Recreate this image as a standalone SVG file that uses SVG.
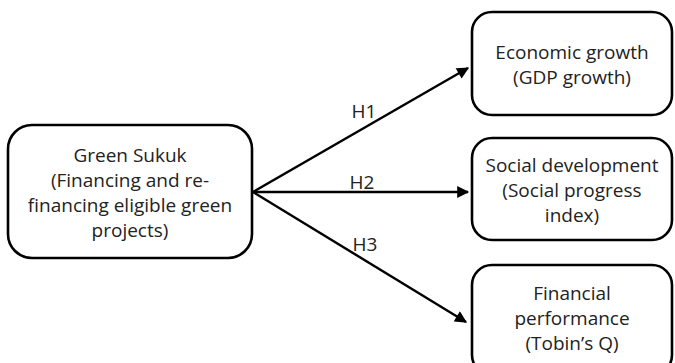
<svg xmlns="http://www.w3.org/2000/svg" width="675" height="363" viewBox="0 0 675 363">
<style>
.box{fill:#fff;stroke:#000;stroke-width:2.6}
.t{font-family:"Open Sans","Liberation Sans",Arial,sans-serif;font-size:19px;fill:#222;text-anchor:middle}
.c{stroke:#000;stroke-width:2.4;fill:none;marker-end:url(#ah)}
</style>
<defs>
<marker id="ah" viewBox="0 0 10 10" refX="9" refY="5" markerWidth="5.5" markerHeight="5" markerUnits="strokeWidth" orient="auto">
<path d="M0,0 L10,5 L0,10 z" fill="#000"/>
</marker>
</defs>
<rect width="675" height="363" fill="#fff"/>
<g id="connectors">
<line class="c" x1="253" y1="192" x2="468" y2="68"/>
<line class="c" x1="253" y1="192" x2="468" y2="192"/>
<line class="c" x1="253" y1="192" x2="466" y2="322"/>
<text class="t" x="364" y="118">H1</text>
<text class="t" x="362" y="189">H2</text>
<text class="t" x="365" y="251">H3</text>
</g>
<g id="green-sukuk">
<rect class="box" x="8" y="125" width="244" height="133" rx="24"/>
<text class="t" x="130" y="162">Green Sukuk</text>
<text class="t" x="130" y="187">(Financing and re-</text>
<text class="t" x="130" y="212">financing eligible green</text>
<text class="t" x="130" y="237">projects)</text>
</g>
<g id="economic-growth">
<rect class="box" x="472" y="12" width="200" height="103" rx="20"/>
<text class="t" x="572" y="59">Economic growth</text>
<text class="t" x="572" y="84">(GDP growth)</text>
</g>
<g id="social-development">
<rect class="box" x="472" y="138" width="200" height="102" rx="20"/>
<text class="t" x="572" y="172">Social development</text>
<text class="t" x="572" y="197">(Social progress</text>
<text class="t" x="572" y="222">index)</text>
</g>
<g id="financial-performance">
<rect class="box" x="472" y="265" width="200" height="110" rx="20"/>
<text class="t" x="572" y="300">Financial</text>
<text class="t" x="572" y="325">performance</text>
<text class="t" x="572" y="350">(Tobin’s Q)</text>
</g>
</svg>
